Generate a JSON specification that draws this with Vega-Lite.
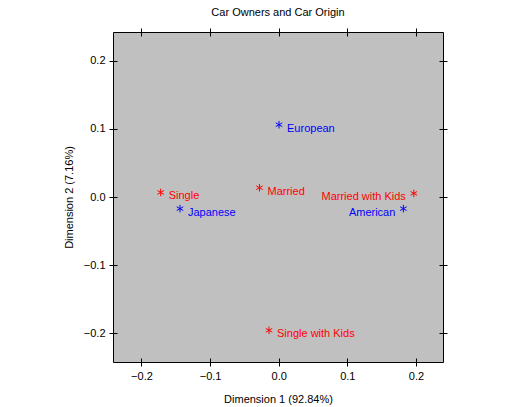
{
  "$schema": "https://vega.github.io/schema/vega-lite/v6.json",
  "autosize": {"type": "none"},
  "padding": {"left": 113, "top": 32, "right": 65, "bottom": 45},
  "width": 330,
  "height": 330,
  "background": "white",
  "title": {"text": "Car Owners and Car Origin", "font": "Liberation Sans", "fontSize": 11, "fontWeight": "normal", "color": "black", "offset": 10},
  "config": {
    "view": {"fill": "#C0C0C0", "stroke": "black", "strokeWidth": 1},
    "axis": {"domain": false, "grid": false, "tickColor": "black", "tickSize": 8, "offset": -4, "labelFont": "Liberation Sans", "labelFontSize": 11, "labelColor": "black", "titleFont": "Liberation Sans", "titleFontSize": 11, "titleFontWeight": "normal", "titleColor": "black", "labelPadding": 4}
  },
  "data": {"values": [
    {"label": "European", "d1": 0.0005, "d2": 0.106, "group": "Origin", "side": "right"},
    {"label": "American", "d1": 0.1817, "d2": -0.0171, "group": "Origin", "side": "left"},
    {"label": "Japanese", "d1": -0.1439, "d2": -0.0171, "group": "Origin", "side": "right"},
    {"label": "Married", "d1": -0.028, "d2": 0.0136, "group": "Owner", "side": "right"},
    {"label": "Married with Kids", "d1": 0.197, "d2": 0.0053, "group": "Owner", "side": "left"},
    {"label": "Single", "d1": -0.172, "d2": 0.0067, "group": "Owner", "side": "right"},
    {"label": "Single with Kids", "d1": -0.0141, "d2": -0.1955, "group": "Owner", "side": "right"}
  ]},
  "resolve": {"axis": {"x": "independent", "y": "independent"}},
  "layer": [
    {
      "mark": {"type": "point", "shape": "M0,-1L0,1M-0.87,-0.5L0.87,0.5M-0.87,0.5L0.87,-0.5", "size": 56, "strokeWidth": 1, "filled": false, "opacity": 1},
      "encoding": {
        "x": {"field": "d1", "type": "quantitative", "scale": {"domain": [-0.2415, 0.2395], "nice": false, "zero": false}, "axis": {"orient": "bottom", "values": [-0.2, -0.1, 0, 0.1, 0.2], "format": ".1f", "title": "Dimension 1 (92.84%)", "titlePadding": 12}},
        "y": {"field": "d2", "type": "quantitative", "scale": {"domain": [-0.242, 0.242], "nice": false, "zero": false}, "axis": {"orient": "left", "values": [-0.2, -0.1, 0, 0.1, 0.2], "format": ".1f", "title": "Dimension 2 (7.16%)", "titlePadding": 9}},
        "color": {"field": "group", "type": "nominal", "scale": {"domain": ["Origin", "Owner"], "range": ["#0000FF", "#FF0000"]}, "legend": null}
      }
    },
    {
      "transform": [{"filter": "datum.side == 'right'"}],
      "mark": {"type": "text", "align": "left", "baseline": "middle", "dx": 8, "dy": 4, "font": "Liberation Sans", "fontSize": 11},
      "encoding": {
        "x": {"field": "d1", "type": "quantitative", "axis": null},
        "y": {"field": "d2", "type": "quantitative", "axis": null},
        "text": {"field": "label"},
        "color": {"field": "group", "type": "nominal", "legend": null}
      }
    },
    {
      "transform": [{"filter": "datum.side == 'left'"}],
      "mark": {"type": "text", "align": "right", "baseline": "middle", "dx": -8, "dy": 4, "font": "Liberation Sans", "fontSize": 11},
      "encoding": {
        "x": {"field": "d1", "type": "quantitative", "axis": {"orient": "top", "values": [-0.2, -0.1, 0, 0.1, 0.2], "labels": false, "title": null}},
        "y": {"field": "d2", "type": "quantitative", "axis": {"orient": "right", "values": [-0.2, -0.1, 0, 0.1, 0.2], "labels": false, "title": null}},
        "text": {"field": "label"},
        "color": {"field": "group", "type": "nominal", "legend": null}
      }
    }
  ]
}
